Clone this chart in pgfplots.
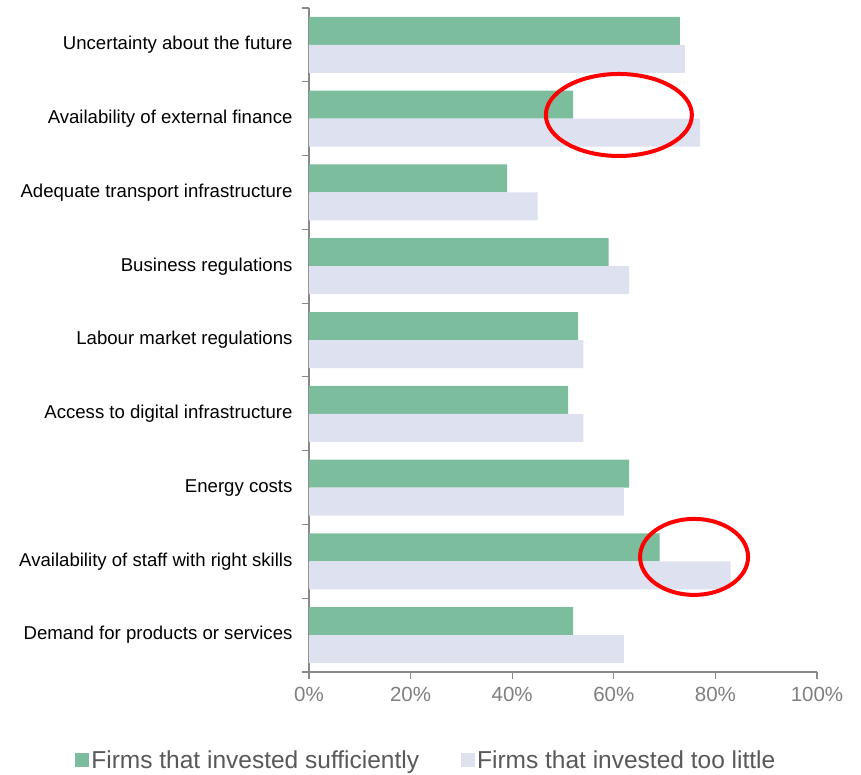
\documentclass[border=0pt]{standalone}
\usepackage{pgfplots}
\pgfplotsset{compat=1.18}
\usepackage{fontspec}
\setmainfont{Liberation Sans}
\definecolor{cgreen}{HTML}{7BBD9C}
\definecolor{clav}{HTML}{DEE1F0}
\definecolor{axgray}{HTML}{898989}
\definecolor{tickgray}{HTML}{7F7F7F}
\definecolor{leggray}{HTML}{595959}
\begin{document}
\begin{tikzpicture}[x=1pt,y=1pt]
\useasboundingbox (-309,-102) rectangle (552,672);
\begin{axis}[
  at={(0,0)}, anchor=south west,
  scale only axis, width=508pt, height=664pt,
  xmin=0, xmax=100, ymin=-0.5, ymax=8.5,
  axis x line*=bottom, axis y line*=left,
  axis line style={axgray, line width=1.2pt, -},
  xtick={0,20,40,60,80,100},
  xticklabels={0\%,20\%,40\%,60\%,80\%,100\%},
  x tick label style={font=\fontsize{20.5}{24}\selectfont, text=tickgray, yshift=-5pt},
  x tick style={axgray, line width=1.2pt},
  tick align=outside, major tick length=7pt,
  ytick={-0.5,0.5,...,8.5},
  yticklabels={},
  y tick style={axgray, line width=1.2pt},
  extra y ticks={0,...,8},
  extra y tick labels={Demand for products or services, Availability of staff with right skills, Energy costs, Access to digital infrastructure, Labour market regulations, Business regulations, Adequate transport infrastructure, Availability of external finance, Uncertainty about the future},
  extra y tick style={major tick length=0pt, yticklabel style={font=\fontsize{18.6}{22}\selectfont, text=black, xshift=-13pt}},
  xbar, bar width=28pt,
  legend style={at={(0.231,0)}, anchor=center, yshift=-88pt, draw=none, legend columns=2,
    font=\fontsize{24.5}{28}\selectfont, text=leggray, /tikz/every even column/.append style={column sep=40pt}},
  legend image code/.code={\fill[#1] (0pt,-7pt) rectangle (14pt,7pt);},
  clip=false,
]
\addplot[fill=cgreen, draw=none, bar shift=14pt] coordinates {
(52,0) (69,1) (63,2) (51,3) (53,4) (59,5) (39,6) (52,7) (73,8)};
\addlegendentry{Firms that invested sufficiently}
\addplot[fill=clav, draw=none, bar shift=-14pt] coordinates {
(62,0) (83,1) (62,2) (54,3) (54,4) (63,5) (45,6) (77,7) (74,8)};
\addlegendentry{Firms that invested too little}
\draw[red, line width=4pt] (axis cs:61,7.05) ellipse [x radius=73pt, y radius=41pt];
\draw[red, line width=4pt] (axis cs:75.8,1.06) ellipse [x radius=54pt, y radius=38pt];
\end{axis}
\end{tikzpicture}
\end{document}
